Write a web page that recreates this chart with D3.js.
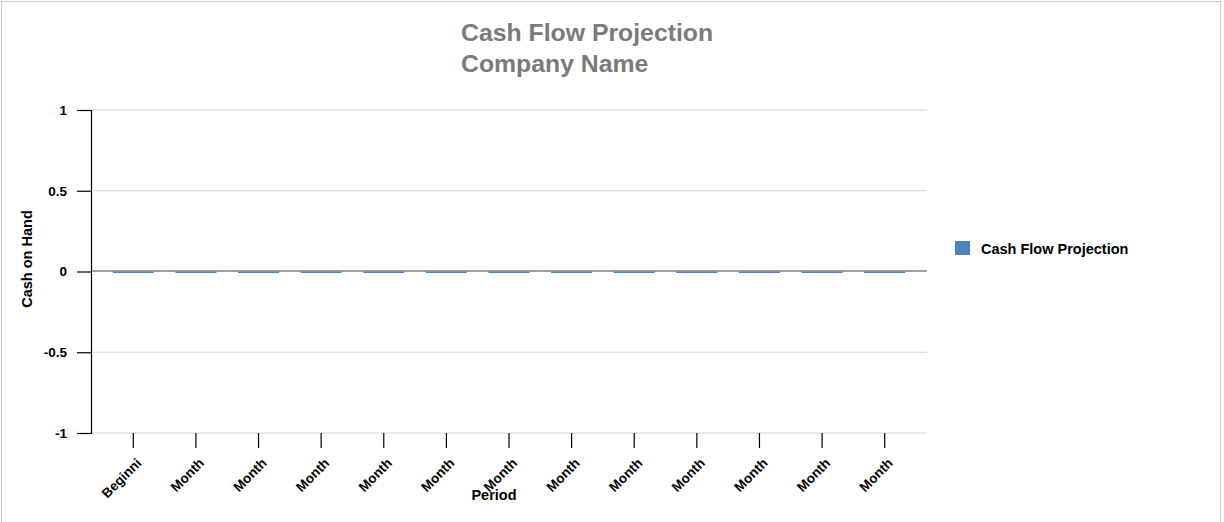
<!DOCTYPE html>
<html>
<head>
<meta charset="utf-8">
<script src="https://cdn.jsdelivr.net/npm/d3@7"></script>
<style>
  body { margin: 0; background: #fff; }
  text { font-family: "Liberation Sans", Arial, sans-serif; }
</style>
</head>
<body>
<svg id="chart" width="1224" height="522"></svg>
<script>
// chart data
var categories = ["Beginning", "Month 1", "Month 2", "Month 3", "Month 4", "Month 5", "Month 6",
                  "Month 7", "Month 8", "Month 9", "Month 10", "Month 11", "Month 12"];
var tickLabels = ["Beginni", "Month", "Month", "Month", "Month", "Month", "Month",
                  "Month", "Month", "Month", "Month", "Month", "Month"];
var cashValues = [0, 0, 0, 0, 0, 0, 0, 0, 0, 0, 0, 0, 0];
var yTicks = [-1, -0.5, 0, 0.5, 1];
var titleLines = ["Cash Flow Projection", "Company Name"];
var seriesName = "Cash Flow Projection";

var svg = d3.select("#chart");
var plotLeft = 91, plotRight = 927, plotTop = 110, plotBottom = 433;
var barColor = "#4f81bd";

// outer frame
svg.append("rect")
    .attr("x", 1.5).attr("y", 1.5)
    .attr("width", 1219).attr("height", 530)
    .attr("fill", "none")
    .attr("stroke", "#c8c8c8");

var x = d3.scaleBand()
    .domain(categories)
    .range([102, 916])
    .paddingInner(0.345)
    .paddingOuter(0.1725);

var y = d3.scaleLinear()
    .domain([-1, 1])
    .range([plotBottom, plotTop]);

// gridlines
svg.append("g").selectAll("line")
    .data(yTicks.filter(function (d) { return d !== 0; }))
    .enter().append("line")
    .attr("x1", plotLeft).attr("x2", plotRight)
    .attr("y1", function (d) { return y(d); })
    .attr("y2", function (d) { return y(d); })
    .attr("stroke", "#d4d4d4")
    .attr("stroke-width", 1.2);

// bars
svg.append("g").selectAll("rect")
    .data(cashValues)
    .enter().append("rect")
    .attr("x", function (d, i) { return x(categories[i]); })
    .attr("width", x.bandwidth())
    .attr("y", function (d) { return Math.min(y(d), y(0)); })
    .attr("height", function (d) { return Math.max(Math.abs(y(d) - y(0)), 1.5); })
    .attr("fill", barColor);

// zero line (drawn over bars, bars peek out just below)
svg.append("line")
    .attr("x1", plotLeft).attr("x2", plotRight)
    .attr("y1", y(0) - 0.5).attr("y2", y(0) - 0.5)
    .attr("stroke", "#7f7f7f")
    .attr("stroke-width", 1.5);

// y axis
var yAxis = d3.axisLeft(y)
    .tickValues(yTicks)
    .tickSize(14)
    .tickPadding(10)
    .tickFormat(function (d) { return d; });
var gy = svg.append("g")
    .attr("transform", "translate(" + plotLeft + ",0)")
    .call(yAxis);
gy.select(".domain").attr("stroke", "#000").attr("stroke-width", 1.2);
gy.selectAll(".tick line").attr("stroke", "#000").attr("stroke-width", 1.2);
gy.selectAll(".tick text")
    .attr("font-family", "Liberation Sans, Arial, sans-serif")
    .attr("font-size", 13.5)
    .attr("font-weight", "bold")
    .attr("fill", "#000");

// x axis
var xAxis = d3.axisBottom(x)
    .tickSizeInner(15)
    .tickSizeOuter(0)
    .tickFormat(function (d, i) { return tickLabels[i]; });
var gx = svg.append("g")
    .attr("transform", "translate(0," + plotBottom + ")")
    .call(xAxis);
gx.select(".domain").remove();
gx.selectAll(".tick line").attr("stroke", "#000").attr("stroke-width", 1.2);
gx.selectAll(".tick text")
    .attr("font-family", "Liberation Sans, Arial, sans-serif")
    .attr("font-size", 13.5)
    .attr("font-weight", "bold")
    .attr("fill", "#000")
    .attr("text-anchor", "end")
    .attr("dy", null)
    .attr("y", 0)
    .attr("transform", "translate(9,31) rotate(-45)");

// titles
svg.append("g").selectAll("text")
    .data(titleLines)
    .enter().append("text")
    .attr("x", 461)
    .attr("y", function (d, i) { return 41 + i * 31; })
    .attr("font-size", 24.8)
    .attr("font-weight", "bold")
    .attr("fill", "#7a7a7a")
    .text(function (d) { return d; });

// axis titles
svg.append("text")
    .attr("transform", "translate(32,259) rotate(-90)")
    .attr("text-anchor", "middle")
    .attr("font-size", 14.5)
    .attr("font-weight", "bold")
    .attr("fill", "#000")
    .text("Cash on Hand");

svg.append("text")
    .attr("x", 494)
    .attr("y", 500)
    .attr("text-anchor", "middle")
    .attr("font-size", 14.5)
    .attr("font-weight", "bold")
    .attr("fill", "#000")
    .text("Period");

// legend
var legend = svg.append("g").attr("transform", "translate(955,241)");
legend.append("rect")
    .attr("width", 15).attr("height", 14)
    .attr("fill", barColor);
legend.append("text")
    .attr("x", 26).attr("y", 12.5)
    .attr("font-size", 14.5)
    .attr("font-weight", "bold")
    .attr("fill", "#000")
    .text(seriesName);
</script>
</body>
</html>
